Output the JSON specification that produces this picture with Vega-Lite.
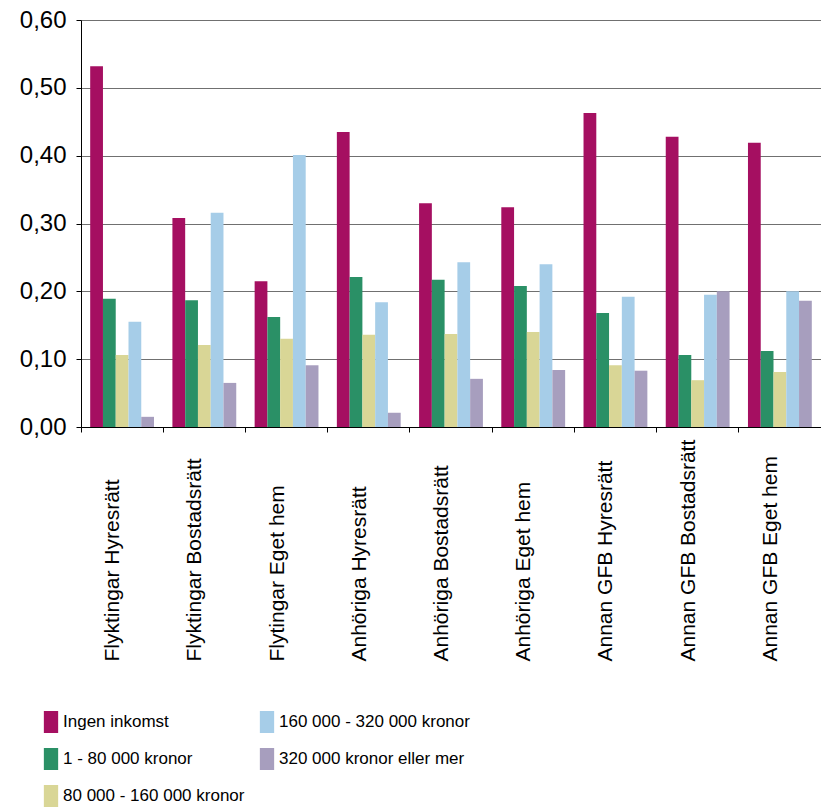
{
  "$schema": "https://vega.github.io/schema/vega-lite/v6.json",
  "width": 740,
  "height": 407,
  "autosize": {"type": "none"},
  "padding": {"left": 81, "top": 20, "right": 0, "bottom": 381},
  "background": "white",
  "config": {
    "font": "Liberation Sans",
    "view": {"stroke": null},
    "locale": {"number": {"decimal": ",", "thousands": " ", "grouping": [3], "currency": ["", " kr"]}}
  },
  "data": {
    "values": [
      {"g": "Flyktingar Hyresrätt", "s": "Ingen inkomst", "v": 0.532},
      {"g": "Flyktingar Hyresrätt", "s": "1 - 80 000 kronor", "v": 0.189},
      {"g": "Flyktingar Hyresrätt", "s": "80 000 - 160 000 kronor", "v": 0.106},
      {"g": "Flyktingar Hyresrätt", "s": "160 000 - 320 000 kronor", "v": 0.155},
      {"g": "Flyktingar Hyresrätt", "s": "320 000 kronor eller mer", "v": 0.015},
      {"g": "Flyktingar Bostadsrätt", "s": "Ingen inkomst", "v": 0.308},
      {"g": "Flyktingar Bostadsrätt", "s": "1 - 80 000 kronor", "v": 0.187},
      {"g": "Flyktingar Bostadsrätt", "s": "80 000 - 160 000 kronor", "v": 0.121},
      {"g": "Flyktingar Bostadsrätt", "s": "160 000 - 320 000 kronor", "v": 0.316},
      {"g": "Flyktingar Bostadsrätt", "s": "320 000 kronor eller mer", "v": 0.065},
      {"g": "Flytingar Eget hem", "s": "Ingen inkomst", "v": 0.215},
      {"g": "Flytingar Eget hem", "s": "1 - 80 000 kronor", "v": 0.162},
      {"g": "Flytingar Eget hem", "s": "80 000 - 160 000 kronor", "v": 0.130},
      {"g": "Flytingar Eget hem", "s": "160 000 - 320 000 kronor", "v": 0.401},
      {"g": "Flytingar Eget hem", "s": "320 000 kronor eller mer", "v": 0.091},
      {"g": "Anhöriga Hyresrätt", "s": "Ingen inkomst", "v": 0.435},
      {"g": "Anhöriga Hyresrätt", "s": "1 - 80 000 kronor", "v": 0.221},
      {"g": "Anhöriga Hyresrätt", "s": "80 000 - 160 000 kronor", "v": 0.136},
      {"g": "Anhöriga Hyresrätt", "s": "160 000 - 320 000 kronor", "v": 0.184},
      {"g": "Anhöriga Hyresrätt", "s": "320 000 kronor eller mer", "v": 0.021},
      {"g": "Anhöriga Bostadsrätt", "s": "Ingen inkomst", "v": 0.330},
      {"g": "Anhöriga Bostadsrätt", "s": "1 - 80 000 kronor", "v": 0.217},
      {"g": "Anhöriga Bostadsrätt", "s": "80 000 - 160 000 kronor", "v": 0.137},
      {"g": "Anhöriga Bostadsrätt", "s": "160 000 - 320 000 kronor", "v": 0.243},
      {"g": "Anhöriga Bostadsrätt", "s": "320 000 kronor eller mer", "v": 0.071},
      {"g": "Anhöriga Eget hem", "s": "Ingen inkomst", "v": 0.324},
      {"g": "Anhöriga Eget hem", "s": "1 - 80 000 kronor", "v": 0.208},
      {"g": "Anhöriga Eget hem", "s": "80 000 - 160 000 kronor", "v": 0.140},
      {"g": "Anhöriga Eget hem", "s": "160 000 - 320 000 kronor", "v": 0.240},
      {"g": "Anhöriga Eget hem", "s": "320 000 kronor eller mer", "v": 0.084},
      {"g": "Annan GFB Hyresrätt", "s": "Ingen inkomst", "v": 0.463},
      {"g": "Annan GFB Hyresrätt", "s": "1 - 80 000 kronor", "v": 0.168},
      {"g": "Annan GFB Hyresrätt", "s": "80 000 - 160 000 kronor", "v": 0.091},
      {"g": "Annan GFB Hyresrätt", "s": "160 000 - 320 000 kronor", "v": 0.192},
      {"g": "Annan GFB Hyresrätt", "s": "320 000 kronor eller mer", "v": 0.083},
      {"g": "Annan GFB Bostadsrätt", "s": "Ingen inkomst", "v": 0.428},
      {"g": "Annan GFB Bostadsrätt", "s": "1 - 80 000 kronor", "v": 0.106},
      {"g": "Annan GFB Bostadsrätt", "s": "80 000 - 160 000 kronor", "v": 0.069},
      {"g": "Annan GFB Bostadsrätt", "s": "160 000 - 320 000 kronor", "v": 0.195},
      {"g": "Annan GFB Bostadsrätt", "s": "320 000 kronor eller mer", "v": 0.200},
      {"g": "Annan GFB Eget hem", "s": "Ingen inkomst", "v": 0.419},
      {"g": "Annan GFB Eget hem", "s": "1 - 80 000 kronor", "v": 0.112},
      {"g": "Annan GFB Eget hem", "s": "80 000 - 160 000 kronor", "v": 0.081},
      {"g": "Annan GFB Eget hem", "s": "160 000 - 320 000 kronor", "v": 0.200},
      {"g": "Annan GFB Eget hem", "s": "320 000 kronor eller mer", "v": 0.186}
    ]
  },
  "mark": {"type": "bar"},
  "encoding": {
    "x": {
      "field": "g",
      "type": "nominal",
      "sort": null,
      "scale": {"paddingInner": 0, "paddingOuter": 0},
      "axis": {
        "title": null,
        "bandPosition": 0,
        "domainColor": "#000000",
        "tickColor": "#000000",
        "tickSize": 5,
        "labelAngle": 270,
        "labelAlign": "left",
        "labelBaseline": "middle",
        "labelPadding": 229,
        "labelOffset": -9,
        "labelFontSize": 21,
        "labelColor": "#000000",
        "labelOverlap": false,
        "labelBound": false,
        "labelFlush": false,
        "labelLimit": 0
      }
    },
    "xOffset": {
      "field": "s",
      "type": "nominal",
      "sort": ["Ingen inkomst", "1 - 80 000 kronor", "80 000 - 160 000 kronor", "160 000 - 320 000 kronor", "320 000 kronor eller mer"],
      "scale": {"paddingInner": 0, "paddingOuter": 0.72}
    },
    "y": {
      "field": "v",
      "type": "quantitative",
      "scale": {"domain": [0, 0.6]},
      "axis": {
        "title": null,
        "values": [0, 0.1, 0.2, 0.3, 0.4, 0.5, 0.6],
        "format": ".2f",
        "domainColor": "#000000",
        "tickColor": "#000000",
        "tickSize": 5,
        "labelPadding": 10,
        "labelFontSize": 24,
        "labelColor": "#000000",
        "gridColor": "#707070",
        "gridWidth": 1.2
      }
    },
    "color": {
      "field": "s",
      "type": "nominal",
      "scale": {
        "domain": ["Ingen inkomst", "1 - 80 000 kronor", "80 000 - 160 000 kronor", "160 000 - 320 000 kronor", "320 000 kronor eller mer"],
        "range": ["#A50F61", "#2A9066", "#D9D696", "#A6CDE8", "#A79EBE"]
      },
      "legend": {
        "title": null,
        "orient": "none",
        "legendX": -41,
        "legendY": 691,
        "columns": 2,
        "columnPadding": 11,
        "rowPadding": 15,
        "symbolType": "M-0.65,-1H0.65V1H-0.65Z",
        "symbolSize": 484,
        "symbolStrokeWidth": 0,
        "symbolOpacity": 1,
        "labelFont": "Liberation Sans",
        "labelFontSize": 17,
        "labelColor": "#000000",
        "labelOffset": 1,
        "labelLimit": 0
      }
    }
  }
}
